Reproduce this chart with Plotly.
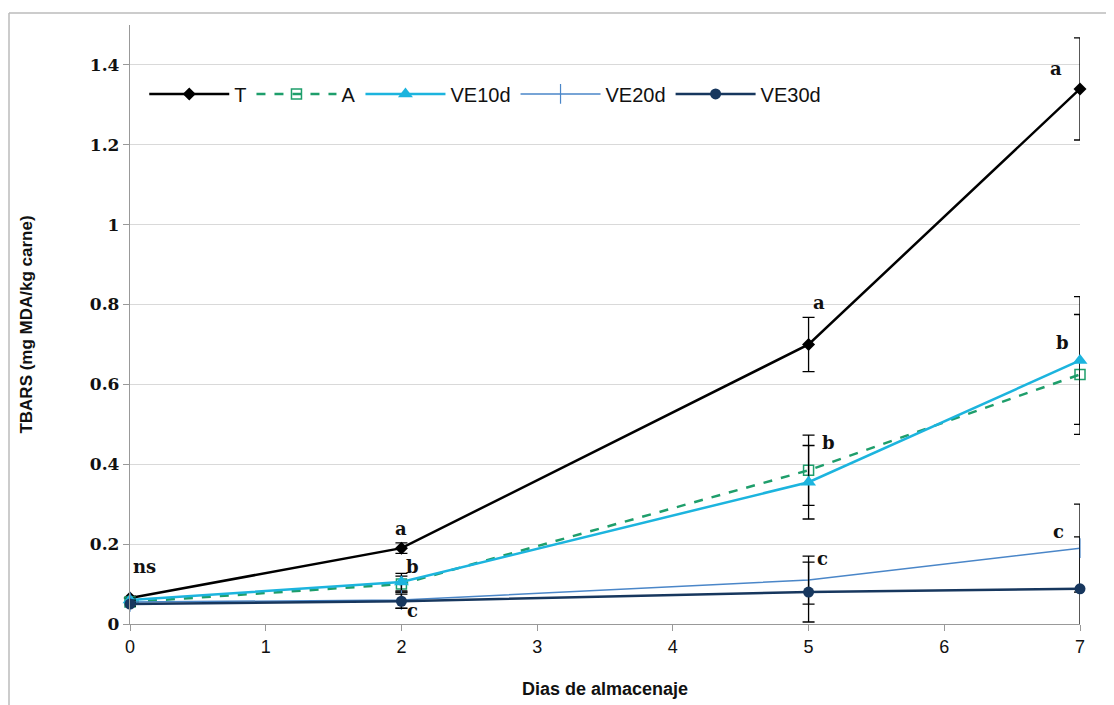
import plotly.graph_objects as go

days = [0, 2, 5, 7]
T = [0.065, 0.19, 0.70, 1.34]
T_err = [0.005, 0.013, 0.068, 0.128]
A = [0.055, 0.10, 0.385, 0.625]
A_err = [0.005, 0.02, 0.088, 0.15]
VE10d = [0.06, 0.105, 0.355, 0.66]
VE10d_err = [0.005, 0.022, 0.092, 0.16]
VE20d = [0.055, 0.06, 0.11, 0.19]
VE20d_err = [0.005, 0.02, 0.06, 0.11]
VE30d = [0.05, 0.057, 0.08, 0.088]
VE30d_err = [0.005, 0.018, 0.075, 0.13]

letters = ["ns", "a", "b", "c", "a", "b", "c", "a", "b", "c"]
letter_x = [0.11, 2.0, 2.08, 2.08, 5.08, 5.15, 5.1, 6.82, 6.87, 6.84]
letter_y = [0.145, 0.24, 0.145, 0.035, 0.805, 0.455, 0.165, 1.39, 0.705, 0.232]

x_ticks = [0, 1, 2, 3, 4, 5, 6, 7]
y_ticks = [0, 0.2, 0.4, 0.6, 0.8, 1.0, 1.2, 1.4]
y_ticktext = ["0", "0.2", "0.4", "0.6", "0.8", "1", "1.2", "1.4"]

series = [
    ("T", T, T_err, dict(color="#000000", width=2.5), dict(symbol="diamond", size=10, color="#000000")),
    ("A", A, A_err, dict(color="#1E9E6B", width=2.5, dash="dash"),
     dict(symbol="square-open", size=10, color="#1E9E6B", line=dict(width=1.5, color="#1E9E6B"))),
    ("VE10d", VE10d, VE10d_err, dict(color="#1CB4DE", width=2.5), dict(symbol="triangle-up", size=13, color="#1CB4DE")),
    ("VE20d", VE20d, VE20d_err, dict(color="#4A86C8", width=1.5),
     dict(symbol="line-ns", size=14, color="#4A86C8", line=dict(width=1.2, color="#4A86C8"))),
    ("VE30d", VE30d, VE30d_err, dict(color="#17375E", width=2.5), dict(symbol="circle", size=11, color="#17375E")),
]

fig = go.Figure()
for name, vals, errs, line, marker in series:
    fig.add_trace(go.Scatter(
        x=days, y=vals, name=name, mode="lines+markers",
        line=line, marker=marker, cliponaxis=False,
        error_y=dict(type="data", array=errs, visible=True, color="#000000", thickness=1.3, width=6),
    ))

for t, x, y in zip(letters, letter_x, letter_y):
    fig.add_annotation(x=x, y=y, text="<b>" + t + "</b>", showarrow=False,
                       font=dict(family="DejaVu Serif", size=18, color="#111111"),
                       xanchor="center", yanchor="middle")

L, T_, PW, PH = 122, 17, 950, 599
fx = (1 - L) / PW
fy = (PH + T_ - 5) / PH
fig.add_shape(type="line", xref="paper", yref="paper", x0=fx, x1=1.1, y0=fy, y1=fy,
              line=dict(color="#BBBBBB", width=1.5))
fig.add_shape(type="line", xref="paper", yref="paper", x0=fx, x1=fx, y0=fy, y1=-0.2,
              line=dict(color="#BBBBBB", width=1.5))

fig.update_layout(
    width=1114, height=705,
    margin=dict(l=L, r=1114 - L - PW, t=T_, b=705 - T_ - PH),
    paper_bgcolor="white", plot_bgcolor="white",
    showlegend=True,
    legend=dict(orientation="h", x=0.015, y=0.885, xanchor="left", yanchor="middle",
                font=dict(family="Liberation Sans Narrow, Arial Narrow, Liberation Sans", size=20, color="#111111"),
                bgcolor="rgba(255,255,255,0)", itemwidth=80, tracegroupgap=0),
    xaxis=dict(range=[0, 7], tickvals=x_ticks, showgrid=False, zeroline=False,
               showline=True, linecolor="#999999", linewidth=1.3,
               ticks="outside", ticklen=6, tickcolor="#999999",
               tickfont=dict(family="Liberation Sans Narrow, Liberation Sans", size=18, color="#111111"),
               title=dict(text="<b>Dias de almacenaje</b>", standoff=26,
                          font=dict(family="Liberation Sans Narrow, Liberation Sans", size=18, color="#111111"))),
    yaxis=dict(range=[0, 1.5], tickvals=y_ticks, ticktext=["<b>" + s + "</b>" for s in y_ticktext],
               showgrid=True, gridcolor="#D9D9D9", gridwidth=1, zeroline=False,
               showline=True, linecolor="#999999", linewidth=1.3,
               ticks="outside", ticklen=6, tickcolor="#999999",
               tickfont=dict(family="DejaVu Serif", size=17, color="#111111"),
               title=dict(text="<b>TBARS (mg MDA/kg carne)</b>", standoff=52,
                          font=dict(family="Liberation Sans Narrow, Liberation Sans", size=17, color="#111111"))),
)

fig.write_html("out.html")
